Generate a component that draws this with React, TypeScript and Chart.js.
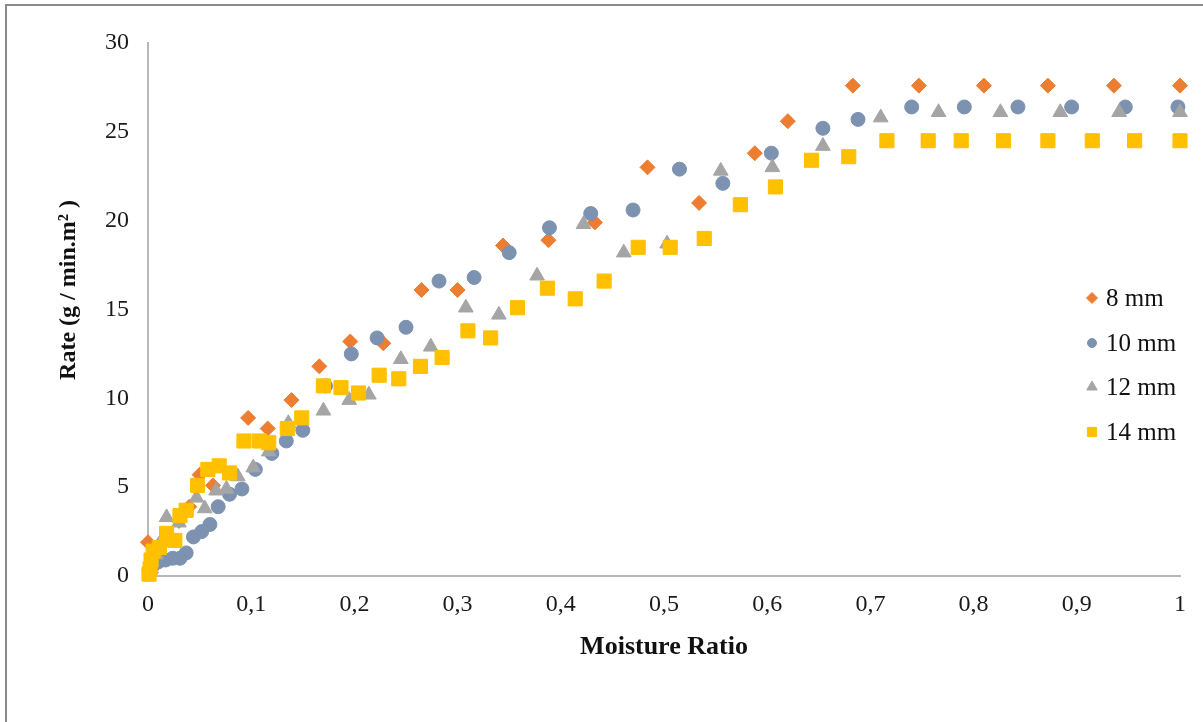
import React, { useEffect, useRef } from 'react';
import { Chart, registerables } from 'chart.js';
import { drawPoint } from 'chart.js/helpers';

Chart.register(...registerables);

// Moisture ratio (x) and drying rate (y) for each slice thickness
const mr8 = [0.0, 0.003, 0.006, 0.012, 0.02, 0.03, 0.04, 0.05, 0.063, 0.097, 0.116, 0.139, 0.166, 0.196, 0.228, 0.265, 0.3, 0.344, 0.388, 0.433, 0.484, 0.534, 0.588, 0.62, 0.683, 0.747, 0.81, 0.872, 0.936, 1.0];
const rate8 = [1.9, 0.2, 1.2, 1.8, 2.3, 3.1, 3.9, 5.7, 5.1, 8.9, 8.3, 9.9, 11.8, 13.2, 13.1, 16.1, 16.1, 18.6, 18.9, 19.9, 23.0, 21.0, 23.8, 25.6, 27.6, 27.6, 27.6, 27.6, 27.6, 27.6];

const mr10 = [0.001, 0.005, 0.01, 0.017, 0.024, 0.031, 0.037, 0.044, 0.052, 0.06, 0.068, 0.079, 0.091, 0.104, 0.12, 0.134, 0.15, 0.172, 0.197, 0.222, 0.25, 0.282, 0.316, 0.35, 0.389, 0.429, 0.47, 0.515, 0.557, 0.604, 0.654, 0.688, 0.74, 0.791, 0.843, 0.895, 0.947, 0.998];
const rate10 = [0.3, 0.6, 0.8, 0.9, 1.0, 1.0, 1.3, 2.2, 2.5, 2.9, 3.9, 4.6, 4.9, 6.0, 6.9, 7.6, 8.2, 10.7, 12.5, 13.4, 14.0, 16.6, 16.8, 18.2, 19.6, 20.4, 20.6, 22.9, 22.1, 23.8, 25.2, 25.7, 26.4, 26.4, 26.4, 26.4, 26.4, 26.4];

const mr12 = [0.002, 0.008, 0.012, 0.018, 0.03, 0.047, 0.055, 0.066, 0.076, 0.087, 0.102, 0.117, 0.136, 0.17, 0.195, 0.214, 0.245, 0.274, 0.308, 0.34, 0.377, 0.422, 0.461, 0.503, 0.555, 0.605, 0.654, 0.71, 0.766, 0.826, 0.884, 0.941, 1.0];
const rate12 = [0.5, 1.2, 1.9, 3.3, 3.0, 4.4, 3.8, 4.8, 4.9, 5.6, 6.1, 7.0, 8.6, 9.3, 9.9, 10.2, 12.2, 12.9, 15.1, 14.7, 16.9, 19.8, 18.2, 18.7, 22.8, 23.0, 24.2, 25.8, 26.1, 26.1, 26.1, 26.1, 26.1];

const mr14 = [0.001, 0.002, 0.003, 0.005, 0.011, 0.018, 0.026, 0.031, 0.037, 0.048, 0.058, 0.069, 0.079, 0.093, 0.108, 0.117, 0.135, 0.149, 0.17, 0.187, 0.204, 0.224, 0.243, 0.264, 0.285, 0.31, 0.332, 0.358, 0.387, 0.414, 0.442, 0.475, 0.506, 0.539, 0.574, 0.608, 0.643, 0.679, 0.716, 0.756, 0.788, 0.829, 0.872, 0.915, 0.956, 1.0];
const rate14 = [0.1, 0.4, 0.9, 1.4, 1.6, 2.4, 2.0, 3.4, 3.7, 5.1, 6.0, 6.2, 5.8, 7.6, 7.6, 7.5, 8.3, 8.9, 10.7, 10.6, 10.3, 11.3, 11.1, 11.8, 12.3, 13.8, 13.4, 15.1, 16.2, 15.6, 16.6, 18.5, 18.5, 19.0, 20.9, 21.9, 23.4, 23.6, 24.5, 24.5, 24.5, 24.5, 24.5, 24.5, 24.5, 24.5];

const seriesLabels = ['8 mm', '10 mm', '12 mm', '14 mm'];
const xTickLabels = ['0', '0,1', '0,2', '0,3', '0,4', '0,5', '0,6', '0,7', '0,8', '0,9', '1'];
const xTitle = 'Moisture Ratio';
const yTitle = 'Rate (g / min.m² )';

const SERIF = '"Liberation Serif", "Times New Roman", serif';

const toPoints = (xs: number[], ys: number[]) => xs.map((x, i) => ({ x, y: ys[i] }));

const styles = [
  { pointStyle: 'rectRot', color: '#ED7D31', radius: 7.5, legendRadius: 5.5 },
  { pointStyle: 'circle', color: '#7C92B0', radius: 7, legendRadius: 4.5 },
  { pointStyle: 'triangle', color: '#A5A5A5', radius: 8.5, legendRadius: 6 },
  { pointStyle: 'rect', color: '#FFC000', radius: 10, legendRadius: 6.5 },
];

// Legend drawn inside the plot area on the right
const legendPlugin = {
  id: 'sideLegend',
  afterDraw(chart: any) {
    const ctx = chart.ctx;
    const rows = [298, 343, 387, 432];
    ctx.save();
    chart.data.datasets.forEach((ds: any, i: number) => {
      const st = styles[i];
      ctx.fillStyle = st.color;
      ctx.strokeStyle = st.color;
      ctx.lineWidth = 1;
      drawPoint(ctx, { pointStyle: st.pointStyle, rotation: 0, radius: st.legendRadius, borderWidth: 1 }, 1092, rows[i]);
      ctx.fillStyle = '#111';
      ctx.font = `25px ${SERIF}`;
      ctx.textAlign = 'left';
      ctx.textBaseline = 'middle';
      ctx.fillText(ds.label, 1106, rows[i] + 1);
    });
    ctx.restore();
  },
};

// Vertical axis title
const yTitlePlugin = {
  id: 'yTitle',
  afterDraw(chart: any) {
    const ctx = chart.ctx;
    ctx.save();
    ctx.translate(69, 290);
    ctx.rotate(-Math.PI / 2);
    ctx.fillStyle = '#111';
    ctx.font = `bold 24px ${SERIF}`;
    ctx.textAlign = 'center';
    ctx.textBaseline = 'middle';
    ctx.fillText(yTitle, 0, 0);
    ctx.restore();
  },
};

export default function App() {
  const canvasRef = useRef<HTMLCanvasElement | null>(null);

  useEffect(() => {
    const canvas = canvasRef.current;
    if (!canvas) return;
    const pointSets = [toPoints(mr8, rate8), toPoints(mr10, rate10), toPoints(mr12, rate12), toPoints(mr14, rate14)];
    const chart = new Chart(canvas, {
      type: 'scatter',
      data: {
        datasets: pointSets.map((data, i) => ({
          label: seriesLabels[i],
          data,
          pointStyle: styles[i].pointStyle as any,
          pointRadius: styles[i].radius,
          pointBackgroundColor: styles[i].color,
          pointBorderColor: styles[i].color,
          pointBorderWidth: 1,
          showLine: false,
          clip: false,
          order: 3 - i,
        })),
      },
      options: {
        animation: false,
        responsive: false,
        maintainAspectRatio: false,
        events: [],
        layout: { padding: { left: 0, top: 43, right: 23, bottom: 0 } },
        plugins: {
          legend: { display: false },
          tooltip: { enabled: false },
        },
        scales: {
          x: {
            type: 'linear',
            min: 0,
            max: 1,
            afterFit: (scale: any) => { scale.height = 146; },
            afterBuildTicks: (scale: any) => {
              scale.ticks = xTickLabels.map((_, i) => ({ value: i / 10 }));
            },
            grid: { display: false, drawTicks: false },
            border: { display: true, color: '#B8B8B8', width: 2 },
            ticks: {
              padding: 14.5,
              color: '#1a1a1a',
              font: { family: SERIF, size: 24 },
              maxRotation: 0,
              autoSkip: false,
              callback: (_v: any, i: number) => xTickLabels[i],
            },
            title: {
              display: true,
              text: xTitle,
              color: '#111',
              font: { family: SERIF, size: 26, weight: 'bold' },
              padding: { top: 0, bottom: 59 },
            },
          },
          y: {
            type: 'linear',
            min: 0,
            max: 30,
            afterFit: (scale: any) => { scale.width = 148; },
            grid: { display: false, drawTicks: false },
            border: { display: true, color: '#B8B8B8', width: 2 },
            ticks: {
              stepSize: 5,
              padding: 19,
              color: '#1a1a1a',
              font: { family: SERIF, size: 24 },
            },
          },
        },
      },
      plugins: [legendPlugin, yTitlePlugin],
    });
    return () => chart.destroy();
  }, []);

  return (
    <div style={{ position: 'absolute', left: 0, top: 0, width: 1203, height: 722, background: '#fff', overflow: 'hidden' }}>
      <div style={{ position: 'absolute', left: 5, top: 4, width: 1210, height: 730, borderTop: '2px solid #8a8a8a', borderLeft: '2px solid #8a8a8a' }} />
      <canvas ref={canvasRef} width={1203} height={722} style={{ position: 'absolute', left: 0, top: 0 }} />
    </div>
  );
}
